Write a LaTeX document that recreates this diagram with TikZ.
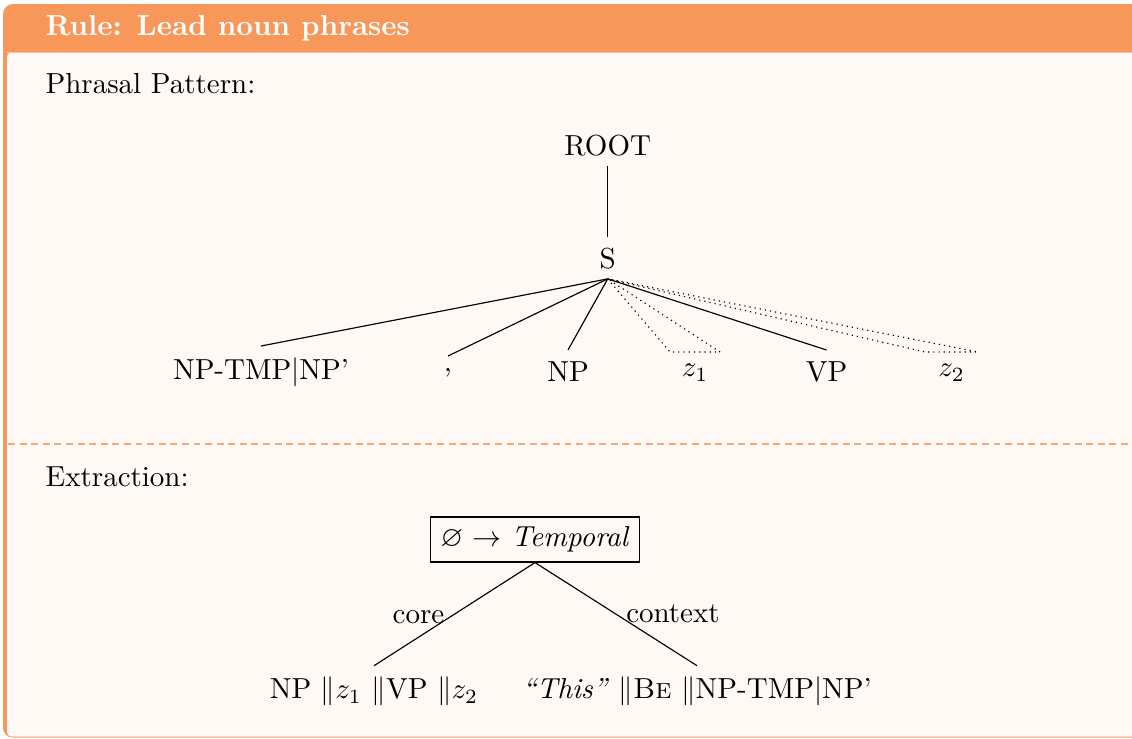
\documentclass[tikz,border=0pt]{standalone}
\usepackage{amssymb}
\usetikzlibrary{calc}
\definecolor{framec}{RGB}{247,151,90}
\definecolor{backc}{RGB}{255,249,245}
\definecolor{segc}{RGB}{249,168,118}
\definecolor{titleline}{RGB}{251,196,160}
\begin{document}
\begin{tikzpicture}[x=0.345pt,y=-0.345pt,
  lbl/.style={inner sep=0.3333em},
  leaf/.style={anchor=north, inner xsep=0.3333em, inner ysep=4pt},
  roofline/.style={dash pattern=on 0.4pt off 1.4pt, line width=0.4pt},
  edgeline/.style={line width=0.4pt}]
\useasboundingbox (0,0) rectangle (1132,738);
\clip (0,0) rectangle (1132,738);
% frame
\fill[framec, rounded corners=3.5pt] (3,4) rectangle (1160,737.6);
\fill[backc, rounded corners=1.5pt] (7,52.5) rectangle (1160,736.5);
\draw[titleline, line width=0.4pt] (7,52.6) -- (1160,52.6);
\node[anchor=base west, text=white, font=\bfseries, inner sep=0] (title) at (45,35) {Rule: Lead noun phrases};
% segmentation
\draw[segc, line width=0.4pt, dash pattern=on 2.4pt off 1.6pt] (8,444) -- (1160,444);
% section 1
\node[anchor=base west, inner sep=0] (phr) at (45,93) {Phrasal Pattern:};
\node[lbl, anchor=base] (root) at (607.7,155) {ROOT};
\node[lbl, anchor=base] (s) at (607.7,268) {S};
\draw[edgeline] (root.south) -- (s.north);
\node[leaf] (ntmp) at (261,346) {NP-TMP$|$NP'};
\node[leaf] (comma) at (448,356) {,};
\node[leaf] (np) at (568,350) {NP};
\node[leaf] (z1) at (695,352) {$z_1$};
\node[leaf] (vp) at (826.5,350) {VP};
\node[leaf] (z2) at (951.5,352) {$z_2$};
\draw[edgeline] (s.south) -- (ntmp.north);
\draw[edgeline] (s.south) -- (comma.north);
\draw[edgeline] (s.south) -- (np.north);
\draw[edgeline] (s.south) -- (vp.north);
\draw[roofline] (s.south) -- ($(z1.north)+(-25,0)$) -- ($(z1.north)+(25,0)$) -- cycle;
\draw[roofline] (s.south) -- ($(z2.north)+(-26.5,0)$) -- ($(z2.north)+(26.5,0)$) -- cycle;
% section 2
\node[anchor=base west, inner sep=0] (extr) at (45,486.7) {Extraction:};
\node[draw, lbl, line width=0.4pt, anchor=base] (box) at (535,546.7) {$\varnothing$ $\rightarrow$ \textit{Temporal}};
\node[leaf, inner ysep=3.75pt] (lcore) at (374,665.7) {NP $\|z_1$ $\|$VP $\|z_2$};
\node[leaf, inner ysep=3.75pt] (lctx) at (697,665.7) {\textit{``This''} $\|$\textsc{Be} $\|$NP-TMP$|$NP'};
\draw[edgeline] (box.south) -- node[lbl, anchor=east, yshift=-1pt] (corelbl) {core} (lcore.north);
\draw[edgeline] (box.south) -- node[lbl, anchor=west] (ctxlbl) {context} (lctx.north);
\end{tikzpicture}
\end{document}
